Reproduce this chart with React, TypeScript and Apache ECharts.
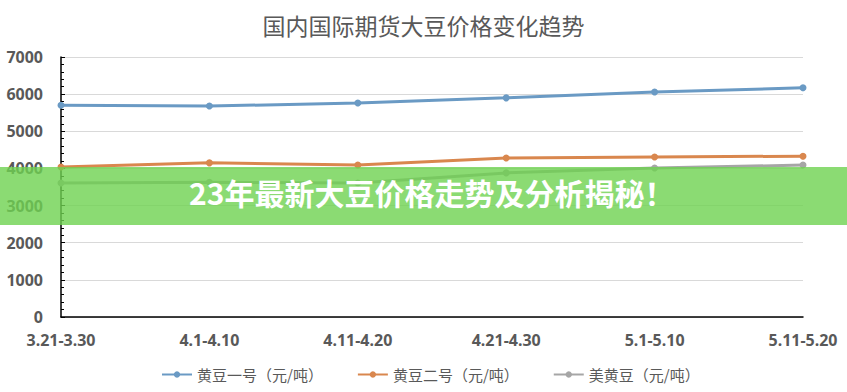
import React, { useEffect, useRef } from "react";
import * as echarts from "echarts";

const categories = ["3.21-3.30", "4.1-4.10", "4.11-4.20", "4.21-4.30", "5.1-5.10", "5.11-5.20"];
const soy1 = [5700, 5680, 5760, 5900, 6060, 6170];
const soy2 = [4040, 4150, 4090, 4280, 4310, 4330];
const usSoy = [3610, 3630, 3610, 3880, 4010, 4090];
const seriesNames = ["黄豆一号（元/吨）", "黄豆二号（元/吨）", "美黄豆（元/吨）"];
const colors = ["#6a9ac4", "#d9874e", "#a6a6a6"];
const title = "国内国际期货大豆价格变化趋势";
const banner = "23年最新大豆价格走势及分析揭秘！";

export default function App() {
  const ref = useRef<HTMLDivElement>(null);
  useEffect(() => {
    if (!ref.current) return;
    const chart = echarts.init(ref.current, null, { renderer: "svg" });
    const data = [soy1, soy2, usSoy];
    chart.setOption({
      animation: false,
      backgroundColor: "#ffffff",
      title: {
        text: title,
        left: "center",
        top: 8,
        textStyle: { fontSize: 23, fontWeight: "normal", color: "#595959", fontFamily: "Noto Sans CJK SC" },
      },
      grid: { left: 61, right: 44, top: 57, bottom: 75 },
      legend: {
        bottom: 5,
        left: 156,
        itemGap: 34,
        itemWidth: 30,
        itemHeight: 8,
        textStyle: { fontSize: 15, color: "#595959", fontFamily: "Noto Sans CJK SC" },
        data: seriesNames,
      },
      xAxis: {
        type: "category",
        boundaryGap: false,
        data: categories,
        axisLine: { lineStyle: { color: "#000", width: 1.5 } },
        axisTick: { show: false },
        axisLabel: { fontSize: 16, fontWeight: "bold", color: "#595959", margin: 15, fontFamily: "Noto Sans" },
      },
      yAxis: {
        type: "value",
        min: 0,
        max: 7000,
        interval: 1000,
        axisLine: { show: true, lineStyle: { color: "#000", width: 1.5 } },
        axisTick: { show: true, inside: true, length: 4, lineStyle: { color: "#000" } },
        minorTick: { show: true, splitNumber: 5, length: 3, lineStyle: { color: "#000" } },
        splitLine: { lineStyle: { color: "#d9d9d9" } },
        axisLabel: {
          fontSize: 16,
          fontWeight: "bold",
          color: "#595959",
          margin: 18,
          fontFamily: "Noto Sans",
          formatter: (v: number) => String(v),
        },
      },
      series: seriesNames.map((n, i) => ({
        name: n,
        type: "line",
        data: data[i],
        symbol: "circle",
        symbolSize: 7,
        itemStyle: { color: colors[i] },
        lineStyle: { color: colors[i], width: 3 },
      })),
      graphic: [
        {
          type: "rect",
          left: 0,
          top: 167,
          shape: { width: 847, height: 58 },
          style: { fill: "rgba(110,210,80,0.8)" },
          z: 100,
        },
        {
          type: "text",
          left: 189,
          top: 177,
          style: {
            text: banner,
            fill: "#ffffff",
            fontSize: 30,
            fontWeight: "bold",
            fontFamily: "Noto Sans CJK SC",
          },
          z: 101,
        },
      ],
    });
    return () => chart.dispose();
  }, []);
  return <div ref={ref} style={{ width: 847, height: 392, position: "absolute", left: 0, top: 0 }} />;
}
